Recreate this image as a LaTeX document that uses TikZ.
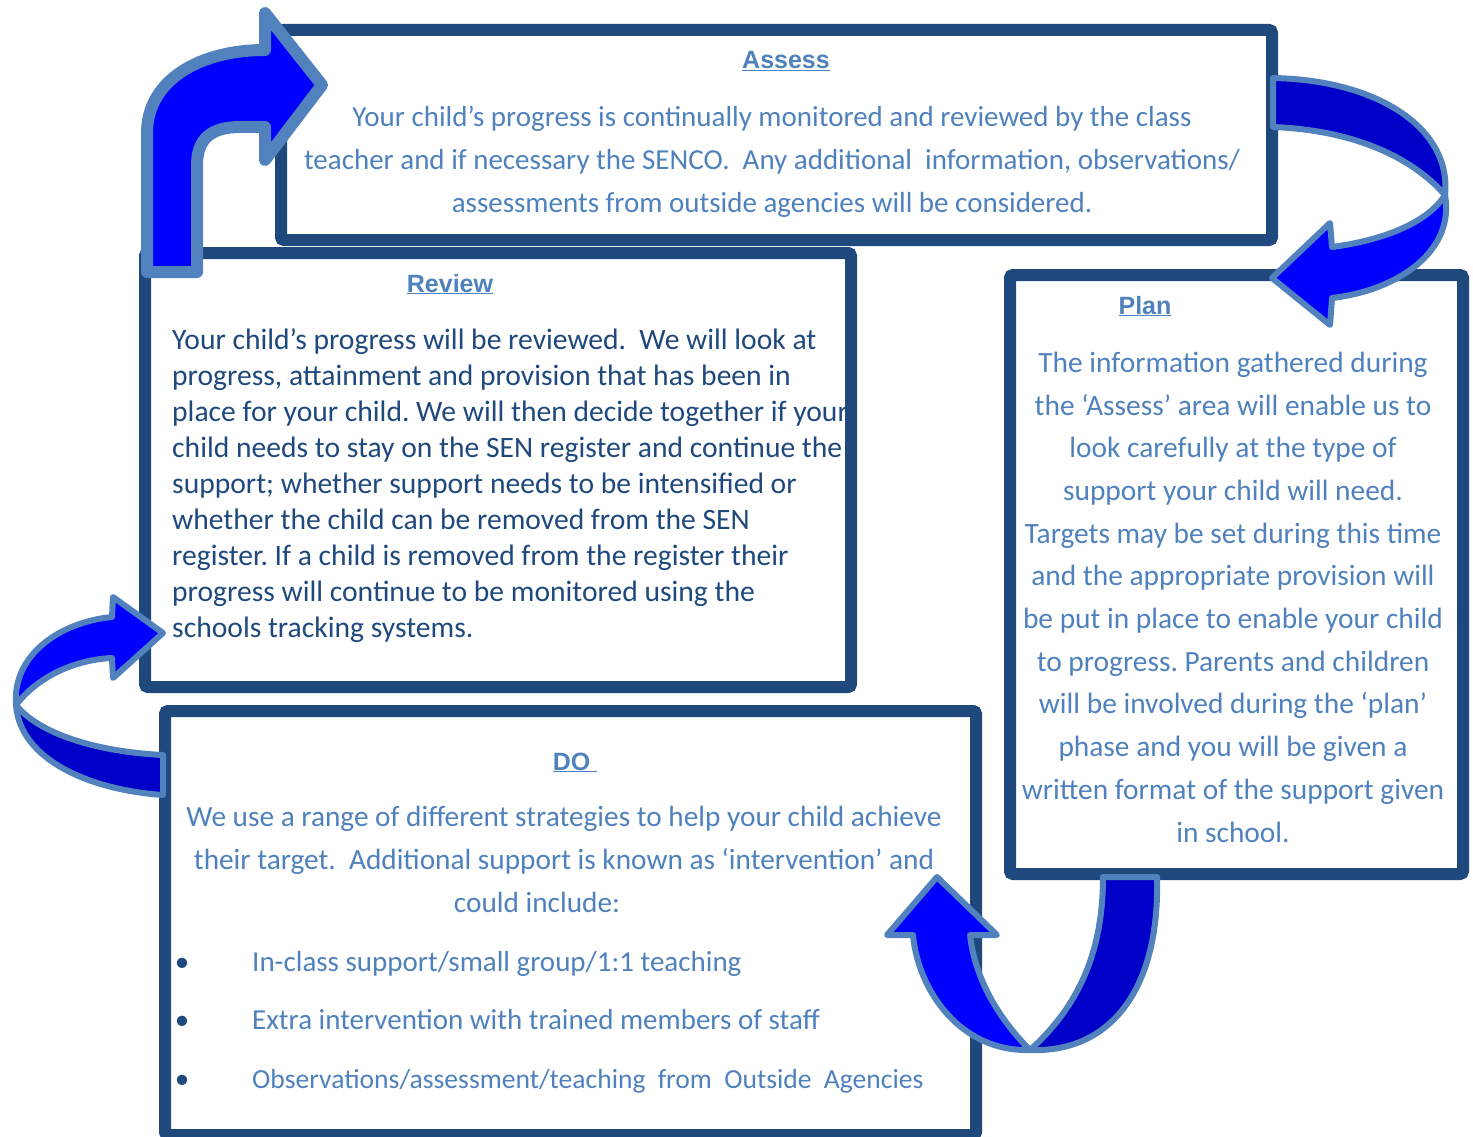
\documentclass[tikz,border=0pt]{standalone}
\usepackage{fontspec}
\setmainfont{Carlito}
\newfontfamily\headfont{Liberation Sans}
\usetikzlibrary{positioning}

\definecolor{boxblue}{HTML}{1F497D}
\definecolor{textblue}{HTML}{4F81BD}
\definecolor{arrowedge}{HTML}{5182BD}
\definecolor{arrowfront}{HTML}{0000FF}
\definecolor{arrowback}{HTML}{0000C8}

\begin{document}
\frenchspacing
\begin{tikzpicture}[x=1pt,y=-1pt,
		stage/.style={draw=boxblue, line width=12pt, rounded corners=3pt, inner sep=0pt},
		head/.style={font=\headfont\bfseries\fontsize{25}{30}\selectfont, text=textblue, inner sep=0pt, anchor=base},
		body/.style={font=\fontsize{29}{43}\selectfont, text=textblue, align=center, inner sep=0pt, anchor=base},
		blockarrow/.style={draw=arrowedge, fill=arrowfront, line width=6pt, line join=round}]
		\useasboundingbox (0,0) rectangle (1473,1137);
		\node (assess) [stage, minimum width=991pt, minimum height=210pt] at (776.5,135) {};
		\node (review) [stage, minimum width=706pt, minimum height=434pt] at (498,470) {};
		\node (plan) [stage, minimum width=453pt, minimum height=599pt] at (1236.5,574.5) {};
		\node (do) [stage, minimum width=811pt, minimum height=424pt] at (570.5,923) {};
		\node (assesshead) [head] at (786,69) {\underline{Assess}};
		\node (assesstext) [body] at (772,212) {Your child’s progress is continually monitored and reviewed by the class\\ teacher and if necessary the SENCO.\ \ Any additional\ \ information, observations/\\ assessments from outside agencies will be considered.};
		\node (reviewhead) [head] at (450,292) {\underline{Review}};
		\node (reviewtext) [body, font=\fontsize{29.6}{35.9}\selectfont, text=boxblue, align=left, anchor=base west] at (172,637) {Your child’s progress will be reviewed.\ \ We will look at\\ progress, attainment and provision that has been in\\ place for your child. We will then decide together if your\\ child needs to stay on the SEN register and continue the\\ support; whether support needs to be intensified or\\ whether the child can be removed from the SEN\\ register. If a child is removed from the register their\\ progress will continue to be monitored using the\\ schools tracking systems.};
		\node (planhead) [head] at (1145,314) {\underline{Plan}};
		\node (plantext) [body, font=\fontsize{29.4}{42.7}\selectfont] at (1233,842) {The information gathered during\\ the ‘Assess’ area will enable us to\\ look carefully at the type of\\ support your child will need.\\ Targets may be set during this time\\ and the appropriate provision will\\ be put in place to enable your child\\ to progress. Parents and children\\ will be involved during the ‘plan’\\ phase and you will be given a\\ written format of the support given\\ in school.};
		\node (dohead) [head] at (575,770) {\underline{DO\ }};
		\node (dotext) [body, font=\fontsize{29.3}{43}\selectfont] at (564,912) {We use a range of different strategies to help your child achieve\\ their target.\ \ Additional support is known as ‘intervention’ and\\ could include:\hspace*{54pt}};
		\node (dot1) [body, text=boxblue] at (182,971) {\textbullet};
		\node (dot2) [body, text=boxblue] at (182,1029) {\textbullet};
		\node (dot3) [body, text=boxblue] at (182,1088) {\textbullet};
		\node (item1) [body, anchor=base west] at (252,971) {In-class support/small group/1:1 teaching};
		\node (item2) [body, anchor=base west] at (252,1029) {Extra intervention with trained members of staff};
		\node (item3) [body, font=\fontsize{27.6}{43}\selectfont, anchor=base west] at (252,1088) {Observations/assessment/teaching\hspace{6pt} from\hspace{6pt} Outside\hspace{6pt} Agencies};
		\draw [blockarrow, line width=12pt] (147,272) -- (147,133) .. controls (147,80) and (200,50) .. (265,50) -- (265,13) -- (322,85) -- (265,160) -- (265,127) -- (240,127) .. controls (210,127) and (197,140) .. (197,165) -- (197,272) -- cycle;
		\draw [blockarrow, fill=arrowback] (1273,78) .. controls (1380,80) and (1452,130) .. (1445,195) .. controls (1410,155) and (1350,130) .. (1273,127) -- cycle;
		\draw [blockarrow] (1445,195) .. controls (1455,250) and (1400,290) .. (1332,298) -- (1330,325) -- (1272,278) -- (1330,223) -- (1332,247) .. controls (1385,240) and (1428,222) .. (1445,195) -- cycle;
		\draw [blockarrow, fill=arrowback] (1103,877) -- (1157,877) .. controls (1160,990) and (1110,1053) .. (1030,1050) .. controls (1080,1005) and (1103,950) .. (1103,877) -- cycle;
		\draw [blockarrow] (1030,1050) .. controls (960,1052) and (918,990) .. (913,935) -- (887,935) -- (937,877) -- (997,935) -- (970,935) .. controls (975,980) and (1000,1020) .. (1030,1050) -- cycle;
		\draw [blockarrow, fill=arrowback] (16,705) .. controls (20,760) and (90,790) .. (163,795) -- (163,755) .. controls (100,752) and (40,735) .. (16,705) -- cycle;
		\draw [blockarrow] (16,705) .. controls (12,655) and (60,622) .. (112,617) -- (113,597) -- (163,633) -- (113,678) -- (112,658) .. controls (70,660) and (35,680) .. (16,705) -- cycle;
\end{tikzpicture}
\end{document}
